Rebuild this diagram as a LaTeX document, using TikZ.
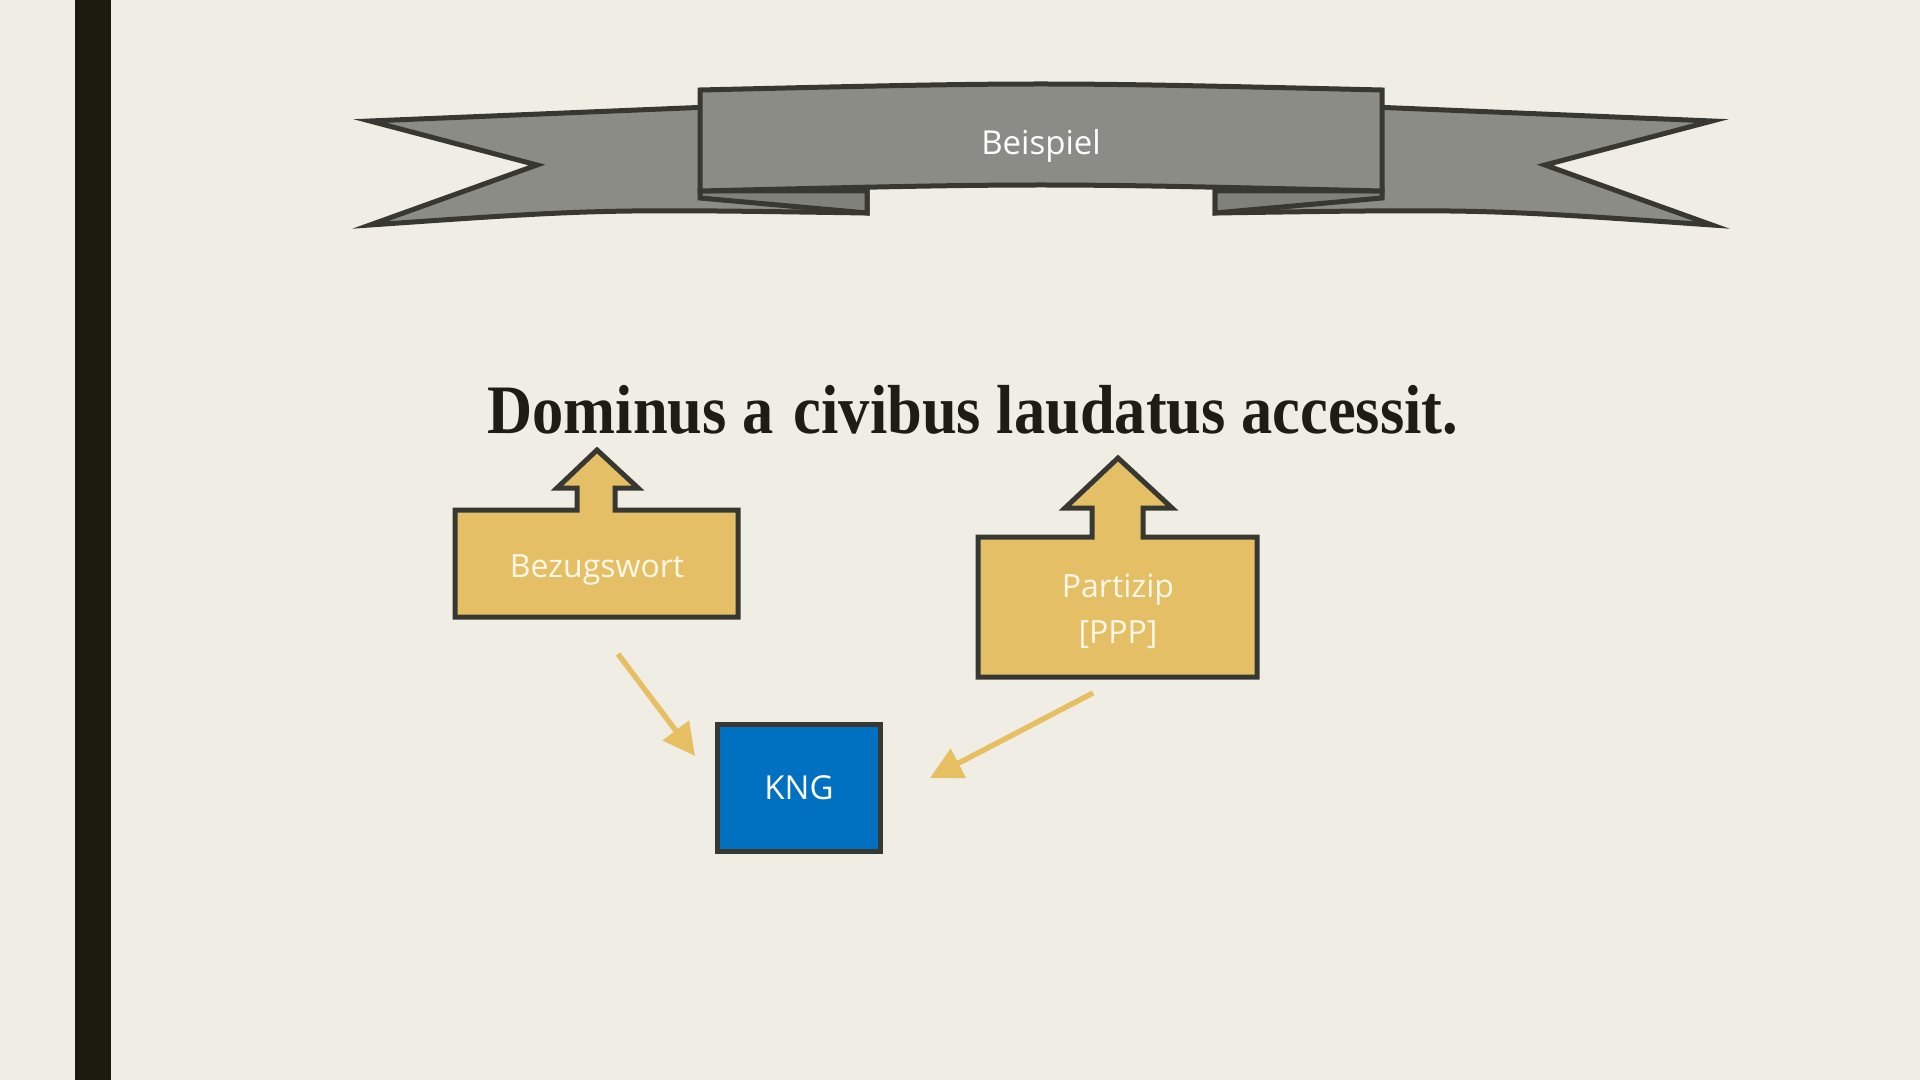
\documentclass[tikz,border=0pt]{standalone}
\usepackage{fontspec}
\setmainfont{Open Sans}
\newfontfamily\titlefont{Liberation Serif}
\usetikzlibrary{arrows.meta}
\definecolor{bg}{HTML}{F0EDE5}
\definecolor{bar}{HTML}{1C1B10}
\definecolor{ribbon}{HTML}{8B8C85}
\definecolor{ribbondark}{HTML}{80817A}
\definecolor{edge}{HTML}{383832}
\definecolor{gold}{HTML}{E4BF66}
\definecolor{goldarrow}{HTML}{E6BF62}
\definecolor{kngblue}{HTML}{0070C0}
\definecolor{cream}{HTML}{FFF8E8}
\definecolor{ink}{HTML}{1E1D14}
\begin{document}
\begin{tikzpicture}[x=0.5pt,y=-0.5pt,
  ribbonpart/.style={fill=ribbon,draw=edge,line width=2.5pt,line join=miter},
  foldpart/.style={fill=ribbondark,draw=edge,line width=2.5pt,line join=miter},
  callout/.style={fill=gold,draw=edge,line width=2.5pt,line join=miter},
  boxlabel/.style={text=cream,font=\fontsize{16}{19}\selectfont,anchor=base,inner sep=0pt},
  flow/.style={draw=goldarrow,line width=2.7pt,-{Triangle[length=16pt,width=16pt]}},
]
\fill[bg] (0,0) rectangle (1920,1080);
\useasboundingbox (0,0) rectangle (1920,1080);
\fill[bar] (75,0) rectangle (111,1080);

% banner: tails
\path[ribbonpart] (370,121) -- (710,107) -- (710,185) -- (867,185) -- (867,213)
  .. controls (600,209) .. (370,225) -- (537,165) -- cycle;
\path[ribbonpart] (1712,121) -- (1372,107) -- (1372,185) -- (1215,185) -- (1215,213)
  .. controls (1482,209) .. (1712,225) -- (1545,165) -- cycle;
% banner: folds
\path[foldpart] (700,191) -- (700,198) -- (867,213) -- (867,191) -- cycle;
\path[foldpart] (1382,191) -- (1382,198) -- (1215,213) -- (1215,191) -- cycle;
% banner: front
\path[ribbonpart] (700,90) .. controls (1041,82) .. (1382,90) -- (1382,191)
  .. controls (1041,183) .. (700,191) -- cycle;
\node[boxlabel,text=white,font=\fontsize{16.5}{19}\selectfont] (beispiel) at (1041,155) {Beispiel};

% title sentence
\node[anchor=base west,inner sep=0pt,text=ink,font=\titlefont\bfseries\fontsize{34.7}{40}\selectfont]
  (sentence) at (487,433) {\scalebox{0.9}[1]{Dominus a\hspace{0.32em}civibus laudatus accessit.}};

% callout Bezugswort
\path[callout] (455,510) -- (577,510) -- (577,488) -- (557,488) -- (597,450) -- (638,488)
  -- (615,488) -- (615,510) -- (738,510) -- (738,617) -- (455,617) -- cycle;
\node[boxlabel] (bez) at (597,577) {Bezugswort};

% callout Partizip
\path[callout] (978,537) -- (1092,537) -- (1092,508) -- (1065,508) -- (1118,458) -- (1172,508)
  -- (1143,508) -- (1143,537) -- (1257,537) -- (1257,677) -- (978,677) -- cycle;
\node[boxlabel] (part) at (1118,597) {Partizip};
\node[boxlabel] (ppp) at (1118,643) {[PPP]};

% KNG
\node[draw=edge,fill=kngblue,line width=2.5pt,minimum width=81.5pt,minimum height=63.75pt,
  inner sep=0pt,text=white,font=\fontsize{16.5}{19}\selectfont] (kng) at (799,788) {KNG};

% arrows
\coordinate (a1s) at (618,654);
\coordinate (a1e) at (695,756);
\coordinate (a2s) at (1093,693);
\coordinate (a2e) at (930,778);
\draw[flow] (a1s) -- (a1e);
\draw[flow] (a2s) -- (a2e);
\end{tikzpicture}
\end{document}
